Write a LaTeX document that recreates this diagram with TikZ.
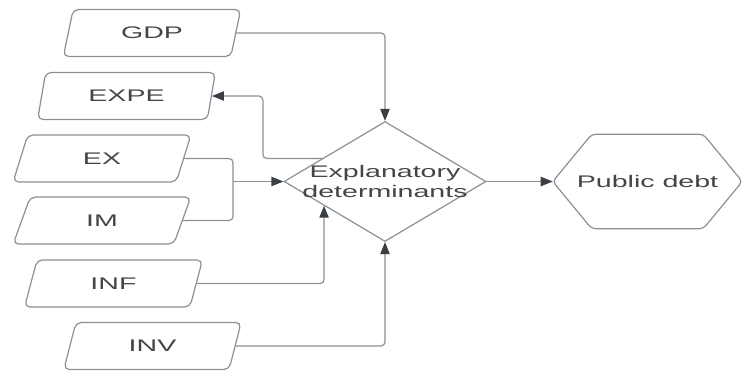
\documentclass[tikz,border=0pt]{standalone}
\usepackage{fontspec}
\setmainfont{Liberation Sans}[FakeStretch=1.7]
\usetikzlibrary{shapes.geometric,arrows.meta,calc}
\definecolor{edgegray}{HTML}{8C8F94}
\definecolor{tipgray}{HTML}{3A3F45}
\definecolor{inkgray}{HTML}{454545}
\tikzset{
  labelfont/.style={text=inkgray,font=\fontsize{12.6pt}{15pt}\selectfont},
  param/.style={draw=edgegray,line width=0.9pt,trapezium,trapezium left angle=72,
    trapezium right angle=108,trapezium stretches=true,rounded corners=4pt,
    minimum width=133.5pt,minimum height=35.25pt,inner sep=0pt,labelfont},
  decide/.style={draw=edgegray,line width=0.9pt,diamond,minimum width=151.5pt,
    minimum height=90pt,inner sep=0pt},
  result/.style={minimum width=141.75pt,minimum height=70.5pt,inner sep=0pt,labelfont},
  outline/.style={draw=edgegray,line width=0.9pt,rounded corners=3pt},
  plain/.style={draw=edgegray,line width=0.9pt,rounded corners=3pt},
  link/.style={plain,-{Triangle[length=9pt,width=7pt,color=tipgray]}}
}
\begin{document}
\begin{tikzpicture}[x=0.75pt,y=-0.75pt]
\useasboundingbox (0,0) rectangle (745,372);
% inputs
\node[param] (gdp) at (152,33) {GDP};
\node[param] (expe) at (126.5,96) {EXPE};
\node[param] (ex) at (102,158.5) {EX};
\node[param] (im) at (102,220.5) {IM};
\node[param] (inf) at (113.5,283.5) {INF};
\node[param] (inv) at (152.5,346) {INV};
% centre and output
\node[decide] (det) at (385,181.5) {};
\node[align=center,labelfont] (dettext) at (det) {Explanatory\\determinants};
\node[result] (debt) at (647.5,181.5) {Public debt};
\draw[outline] (debt.west) -- ($(debt.north west)+(39,0)$) -- ($(debt.north east)+(-39,0)$)
  -- (debt.east) -- ($(debt.south east)+(-39,0)$) -- ($(debt.south west)+(39,0)$) -- cycle;
\coordinate (fork) at (233,181.5);
% connectors
\draw[link] (gdp.east) -| (det.north);
\draw[link] (det.160) -- ++(-59,0) |- (expe.east);
\draw[plain] (ex.east) -| (fork);
\draw[plain] (im.east) -| (fork);
\draw[link] (fork) -- (det.west);
\draw[link] (inf.east) -| ($(det.west)!0.4!(det.south)$);
\draw[link] (inv.east) -| (det.south);
\draw[link] (det.east) -- (debt.west);
\end{tikzpicture}
\end{document}
